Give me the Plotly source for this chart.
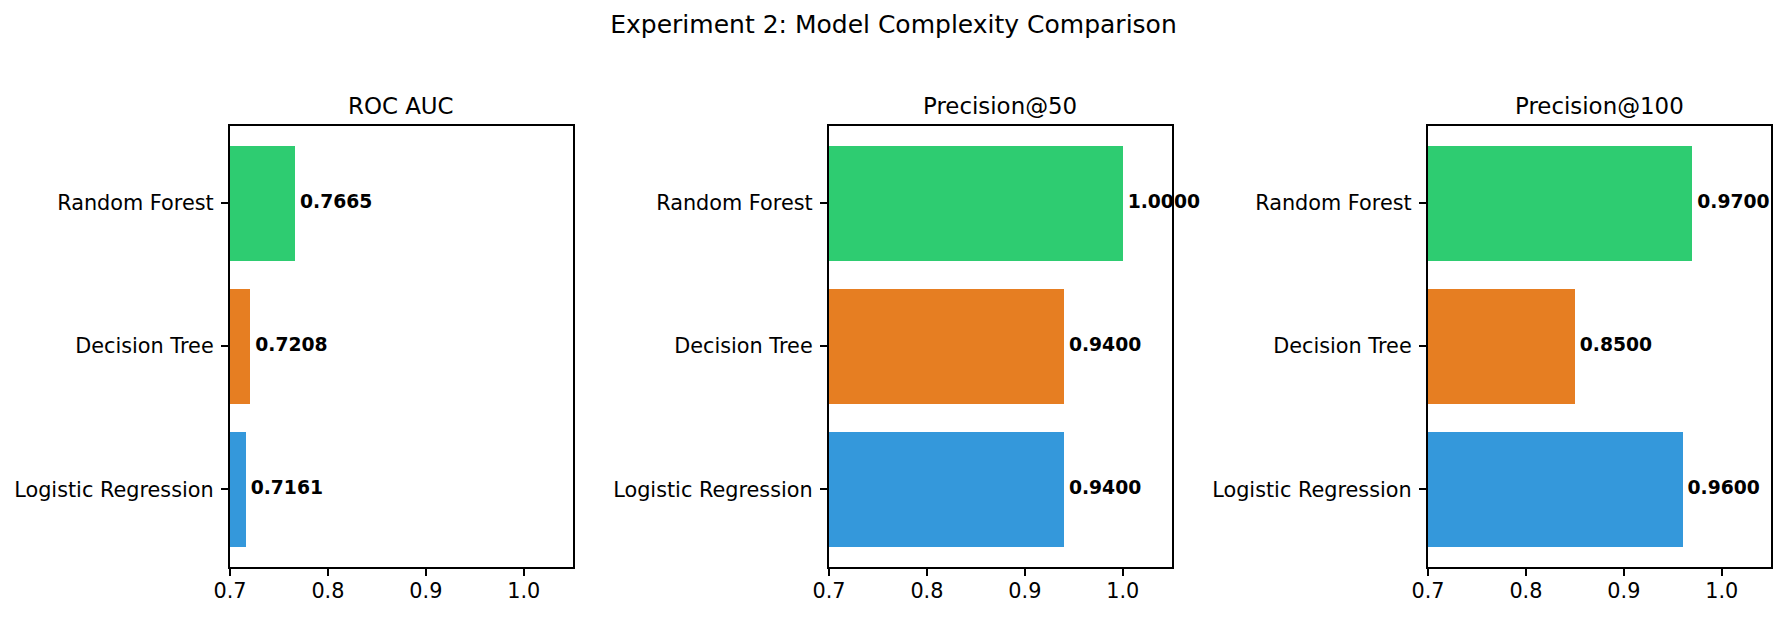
import plotly.graph_objects as go
from plotly.subplots import make_subplots

modelos = ['Logistic Regression', 'Decision Tree', 'Random Forest']
cores = ['#3498db', '#e67e22', '#2ecc71']
metricas = ['ROC AUC', 'Precision@50', 'Precision@100']
roc_auc = [0.7161, 0.7208, 0.7665]
prec_50 = [0.94, 0.94, 1.0]
prec_100 = [0.96, 0.85, 0.97]
valores = [roc_auc, prec_50, prec_100]

# a pagina tem margem de 8px no body, entao a figura fica 16px menor
# e todas as posicoes sao descontadas em 8px
OFF = 8
W, H = 1785 - 2 * OFF, 617 - 2 * OFF
fonte = 'DejaVu Sans'

fig = make_subplots(rows=1, cols=3)

# posicoes dos eixos em pixels na tela (esq, dir), iguais ao original
px_x = [(230, 572.7), (829, 1171.7), (1428, 1770.7)]
topo, base = 125.7 - OFF, 566.7 - OFF

for i, vals in enumerate(valores):
    col = i + 1
    pos = list(range(len(modelos)))
    fig.add_trace(go.Bar(x=vals, y=pos, orientation='h', width=0.8,
                         marker=dict(color=cores, line=dict(width=0)),
                         showlegend=False, hoverinfo='skip'), row=1, col=col)
    fig.add_trace(go.Scatter(x=[v + 0.005 for v in vals], y=pos, mode='text',
                             text=['<b>%.4f</b>' % v for v in vals],
                             textposition='middle right',
                             textfont=dict(family=fonte, size=18.75, color='black'),
                             cliponaxis=False, showlegend=False, hoverinfo='skip'),
                  row=1, col=col)
    x0, x1 = px_x[i][0] - OFF, px_x[i][1] - OFF
    fig.update_xaxes(domain=[x0 / W, x1 / W], range=[0.7, 1.05],
                     tickvals=[0.7, 0.8, 0.9, 1.0], tickformat='.1f',
                     ticklabelstandoff=-3, row=1, col=col)
    fig.update_yaxes(domain=[1 - base / H, 1 - topo / H], range=[-0.54, 2.54],
                     tickvals=pos, ticktext=modelos, ticklabelstandoff=3,
                     row=1, col=col)
    fig.add_annotation(text=metricas[i], xref='paper', yref='paper',
                       x=(x0 + x1) / 2 / W, y=1 - (106 - OFF) / H,
                       xanchor='center', yanchor='middle', showarrow=False,
                       font=dict(family=fonte, size=22.9, color='black'))

eixo = dict(showline=True, linecolor='black', linewidth=1.67, mirror=True,
            ticks='outside', ticklen=7.3, tickwidth=1.67, tickcolor='black',
            showgrid=False, zeroline=False, automargin=False,
            tickfont=dict(family=fonte, size=20.8, color='black'))
fig.update_xaxes(**eixo)
fig.update_yaxes(**eixo)

fig.update_layout(
    template='none',
    width=W, height=H,
    margin=dict(l=0, r=0, t=0, b=0, pad=0),
    plot_bgcolor='white', paper_bgcolor='white',
    font=dict(family=fonte, color='black'),
    title=dict(text='Experiment 2: Model Complexity Comparison',
               x=(893.5 - OFF) / W, xanchor='center',
               y=1 - (24 - OFF) / H, yanchor='middle',
               font=dict(family=fonte, size=25, color='black')),
    bargap=0,
)

fig.write_html('out.html')
